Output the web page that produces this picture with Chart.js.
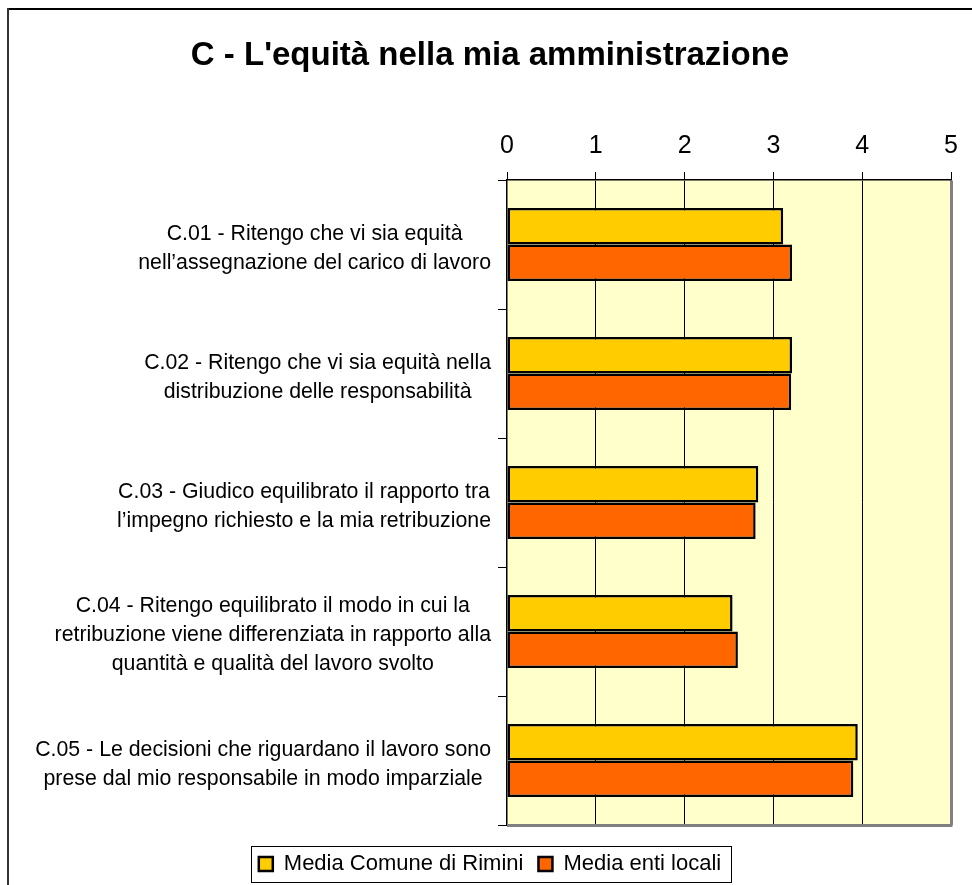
<!DOCTYPE html>
<html>
<head>
<meta charset="utf-8">
<script src="https://cdn.jsdelivr.net/npm/chart.js@4/dist/chart.umd.min.js"></script>
<style>
  body { margin: 0; background: #fff; }
  canvas { display: block; }
</style>
</head>
<body>
<canvas id="chart" width="972" height="885"></canvas>
<script>
const questions = [
  ["C.01 - Ritengo che vi sia equità", "nell’assegnazione del carico di lavoro"],
  ["C.02 - Ritengo che vi sia equità nella", "distribuzione delle responsabilità"],
  ["C.03 - Giudico equilibrato il rapporto tra", "l’impegno richiesto e la mia retribuzione"],
  ["C.04 - Ritengo equilibrato il modo in cui la", "retribuzione viene differenziata in rapporto alla", "quantità e qualità del lavoro svolto"],
  ["C.05 - Le decisioni che riguardano il lavoro sono", "prese dal mio responsabile in modo imparziale"]
];
const mediaRimini = [3.11, 3.21, 2.83, 2.54, 3.95];
const mediaEntiLocali = [3.21, 3.20, 2.80, 2.60, 3.90];
const seriesNames = ["Media Comune di Rimini", "Media enti locali"];

const FONT = "'Liberation Sans', Arial, sans-serif";
Chart.defaults.font.family = FONT;
Chart.defaults.color = '#000';

// sfondo giallino dell'area del grafico + cornice esterna
const plotBackground = {
  id: 'plotBackground',
  beforeDraw(chart) {
    const { ctx, chartArea: a } = chart;
    ctx.save();
    ctx.fillStyle = '#FFFFCC';
    ctx.fillRect(a.left, a.top, a.right - a.left, a.bottom - a.top);
    // cornice esterna (solo lati alto e sinistro visibili)
    ctx.fillStyle = '#000';
    ctx.fillRect(7, 8, chart.width - 7, 2);
    ctx.fillStyle = '#333';
    ctx.fillRect(7, 8, 2, chart.height - 8);
    ctx.restore();
  },
  beforeDatasetsDraw(chart) {
    const { ctx, chartArea: a } = chart;
    ctx.save();
    ctx.strokeStyle = '#808080';
    ctx.lineWidth = 3;
    ctx.beginPath();
    ctx.moveTo(a.left, a.bottom + 0.5);
    ctx.lineTo(a.right + 1.5, a.bottom + 0.5);
    ctx.stroke();
    ctx.restore();
  }
};

// etichette delle domande: blocco allineato a destra, righe centrate
const questionLabels = {
  id: 'questionLabels',
  afterDraw(chart) {
    const { ctx, chartArea: a } = chart;
    const yScale = chart.scales.y;
    const lineH = 29;
    ctx.save();
    ctx.font = '21.3px ' + FONT;
    ctx.fillStyle = '#000';
    ctx.textAlign = 'center';
    ctx.textBaseline = 'middle';
    questions.forEach((lines, i) => {
      const yc = yScale.getPixelForValue(i) + 4;
      const maxW = Math.max(...lines.map(l => ctx.measureText(l).width));
      const cx = a.left - 16 - maxW / 2;
      const y0 = yc - (lines.length - 1) * lineH / 2;
      lines.forEach((l, k) => ctx.fillText(l, cx, y0 + k * lineH));
    });
    ctx.restore();
  }
};

// bordo attorno alla legenda
const legendFrame = {
  id: 'legendFrame',
  afterDraw(chart) {
    const boxes = chart.legend && chart.legend.legendHitBoxes;
    if (!boxes || !boxes.length) return;
    const first = boxes[0], last = boxes[boxes.length - 1];
    const x0 = first.left - 8;
    const x1 = last.left + last.width + 10;
    const y0 = first.top - 7;
    const y1 = first.top + first.height + 7;
    const ctx = chart.ctx;
    ctx.save();
    ctx.strokeStyle = '#000';
    ctx.lineWidth = 1;
    ctx.strokeRect(Math.round(x0) + 0.5, Math.round(y0) + 0.5, Math.round(x1 - x0), Math.round(y1 - y0));
    ctx.restore();
  }
};

new Chart(document.getElementById('chart').getContext('2d'), {
  type: 'bar',
  data: {
    labels: questions.map(q => q.join(' ')),
    datasets: [
      {
        label: seriesNames[0],
        data: mediaRimini,
        backgroundColor: '#FFCC00',
        borderColor: '#000',
        borderWidth: 2.5,
        borderSkipped: false
      },
      {
        label: seriesNames[1],
        data: mediaEntiLocali,
        backgroundColor: '#FF6600',
        borderColor: '#000',
        borderWidth: 2.5,
        borderSkipped: false
      }
    ]
  },
  options: {
    indexAxis: 'y',
    responsive: false,
    devicePixelRatio: 1,
    animation: false,
    layout: { padding: { left: 29, right: 21, top: 0, bottom: 0 } },
    datasets: {
      bar: { barPercentage: 1, categoryPercentage: 0.564 }
    },
    scales: {
      x: {
        position: 'top',
        min: 0,
        max: 5,
        ticks: { stepSize: 1, padding: 11, font: { size: 25 }, color: '#000' },
        grid: {
          color: c => c.tick.value === 0 ? 'rgba(0,0,0,0)' : (c.tick.value === 5 ? '#808080' : '#000'),
          lineWidth: c => c.tick.value === 5 ? 3 : 1,
          tickColor: '#000',
          tickWidth: 1,
          tickLength: 8
        },
        border: { color: '#000', width: 1.5 },
        afterFit(scale) { scale.height = 180 - 83.6; }
      },
      y: {
        ticks: { display: false },
        grid: {
          offset: true,
          drawOnChartArea: false,
          drawTicks: true,
          tickLength: 9,
          color: '#000'
        },
        border: { color: '#000', width: 1.5 },
        afterFit(scale) { scale.width = 507 - 29; }
      }
    },
    plugins: {
      title: {
        display: true,
        text: "C - L'equità nella mia amministrazione",
        font: { size: 33, weight: 'bold' },
        color: '#000',
        padding: { top: 36, bottom: 8 }
      },
      legend: {
        position: 'bottom',
        title: { display: true, text: ' ', color: 'rgba(0,0,0,0)', font: { size: 1 }, padding: 5.9 },
        labels: {
          boxWidth: 14,
          boxHeight: 14,
          padding: 15,
          font: { size: 22 },
          color: '#000'
        }
      },
      tooltip: { enabled: false }
    }
  },
  plugins: [plotBackground, questionLabels, legendFrame]
});
</script>
</body>
</html>
